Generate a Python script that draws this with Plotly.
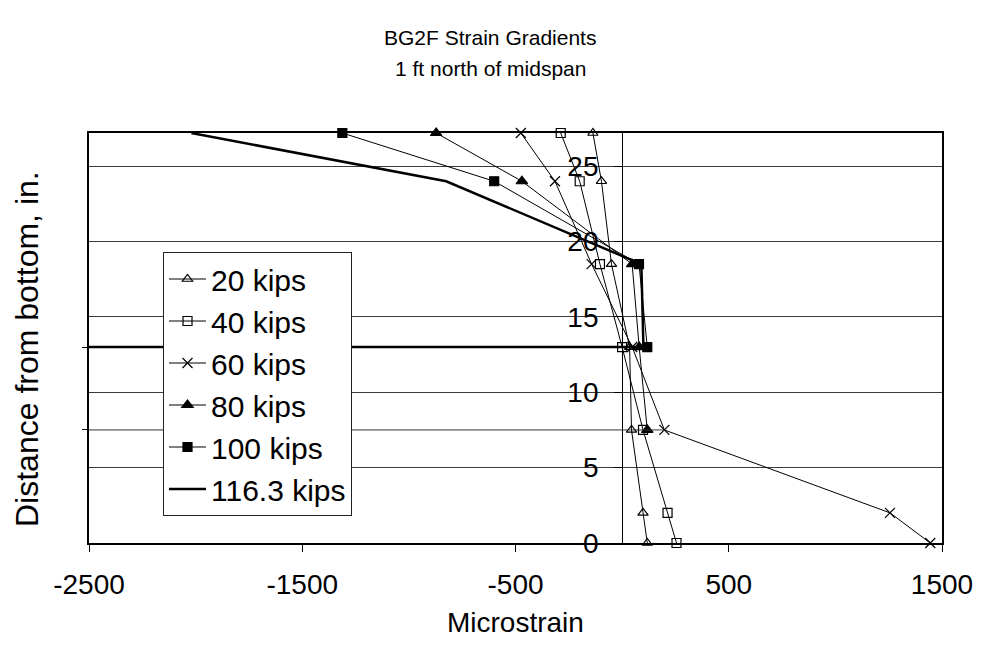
import plotly.graph_objects as go

# ---- data ----
depth = [27.2, 24, 18.5, 13, 7.5, 2, 0]          # distance from bottom, in.
kips20 = [-137, -97, -50, 35, 44, 98, 118]
kips40 = [-288, -199, -104, 0, 98, 213, 255]
kips60 = [-475, -315, -143, 47, 198, 1256, 1445]
kips80 = [-872, -470, 47, 80, 118]
kips100 = [-1312, -600, 79, 118]
kips116 = [-2020, -825, 90, 100]

# horizontal level lines seen on the left of the chart
level13_x = [-2500, 100]
level13_y = [13, 13]
level75_x = [-2500, 198]
level75_y = [7.5, 7.5]

x_ticks = [-2500, -1500, -500, 500, 1500]
x_ticktext = ["-2500", "-1500", "-500", "500", "1500"]
y_ticks = [0, 5, 10, 15, 20, 25]
x_range = [-2500, 1500]
y_range = [0, 27.2]

title_lines = ["BG2F Strain Gradients", "1 ft north of midspan"]

FONT = "Liberation Sans, Arial, sans-serif"
BLACK = "#000000"

# page body has an 8px margin: figure coords = page coords - 8
OFF = 8
W, H = 981 - 2 * OFF, 648 - 2 * OFF
PL, PR, PT, PB = 89 - OFF, 942 - OFF, 133 - OFF, 543 - OFF


def px_x(page_x):
    return (page_x - OFF - PL) / (PR - PL)


def px_y(page_y):
    return (PB - (page_y - OFF)) / (PB - PT)


fig = go.Figure()

series = [
    ("20 kips", kips20, "triangle-up-open", 9),
    ("40 kips", kips40, "square-open", 9),
    ("60 kips", kips60, "x-thin-open", 10),
    ("80 kips", kips80, "triangle-up", 10),
    ("100 kips", kips100, "square", 9),
]
for name, xs, sym, size in series:
    fig.add_trace(go.Scatter(
        x=xs, y=depth[:len(xs)], name=name, mode="lines+markers",
        line=dict(color=BLACK, width=1),
        marker=dict(symbol=sym, size=size, color=BLACK,
                    line=dict(color=BLACK, width=1.2)),
        cliponaxis=False,
    ))

fig.add_trace(go.Scatter(
    x=kips116, y=depth[:len(kips116)], name="116.3 kips", mode="lines",
    line=dict(color=BLACK, width=2.5), cliponaxis=False,
))

fig.add_trace(go.Scatter(
    x=level13_x, y=level13_y, mode="lines", showlegend=False,
    line=dict(color=BLACK, width=2.5), yaxis="y2", hoverinfo="skip",
))
fig.add_trace(go.Scatter(
    x=level75_x, y=level75_y, mode="lines", showlegend=False,
    line=dict(color="#333333", width=1), yaxis="y2", hoverinfo="skip",
))

fig.update_layout(
    width=W, height=H, autosize=False,
    margin=dict(l=PL, r=W - PR, t=PT, b=H - PB, pad=0),
    paper_bgcolor="white", plot_bgcolor="white",
    font=dict(family=FONT, color=BLACK, size=28),
    xaxis=dict(
        range=x_range, tickmode="array", tickvals=x_ticks, ticktext=x_ticktext,
        showgrid=False, zeroline=False, automargin=False,
        showline=True, mirror=True, linecolor=BLACK, linewidth=2,
        ticks="outside", ticklen=7, tickcolor=BLACK, tickwidth=1,
        tickfont=dict(size=28), ticklabelstandoff=8,
        ticklabeloverflow="allow",
    ),
    yaxis=dict(
        range=y_range, tickmode="array", tickvals=y_ticks,
        showticklabels=False, ticks="", automargin=False,
        showgrid=True, gridcolor="#3a3a3a", gridwidth=1,
        zeroline=False,
        showline=True, mirror=True, linecolor=BLACK, linewidth=2,
        minor=dict(tickmode="array", tickvals=[7.5, 13], ticks="outside",
                   ticklen=5, tickcolor=BLACK, showgrid=False),
    ),
    yaxis2=dict(
        range=y_range, tickmode="array", tickvals=y_ticks,
        overlaying="y", anchor="free", position=0.625, side="left",
        showgrid=False, zeroline=False, automargin=False,
        showline=True, linecolor=BLACK, linewidth=1,
        ticks="outside", ticklen=8, tickcolor=BLACK,
        tickfont=dict(size=28), ticklabelstandoff=10,
        ticklabeloverflow="allow",
    ),
    legend=dict(
        x=px_x(163), y=px_y(252), xanchor="left", yanchor="top",
        bgcolor="white", bordercolor="#222222", borderwidth=1,
        font=dict(size=30, color=BLACK), traceorder="normal",
        itemwidth=37,
    ),
    showlegend=True,
)

for text, page_y in zip(title_lines, [37, 68]):
    fig.add_annotation(
        text=text, xref="paper", yref="paper",
        x=px_x(490), y=px_y(page_y), xanchor="center", yanchor="middle",
        showarrow=False, font=dict(size=21, color=BLACK, family=FONT),
    )

fig.add_annotation(
    text="Distance from bottom, in.", textangle=-90,
    xref="paper", yref="paper", x=px_x(27), y=px_y(349),
    xanchor="center", yanchor="middle", showarrow=False,
    font=dict(size=32, color=BLACK, family=FONT),
)
fig.add_annotation(
    text="Microstrain",
    xref="paper", yref="paper", x=px_x(515), y=px_y(622),
    xanchor="center", yanchor="middle", showarrow=False,
    font=dict(size=28, color=BLACK, family=FONT),
)

fig.write_html("out.html")
